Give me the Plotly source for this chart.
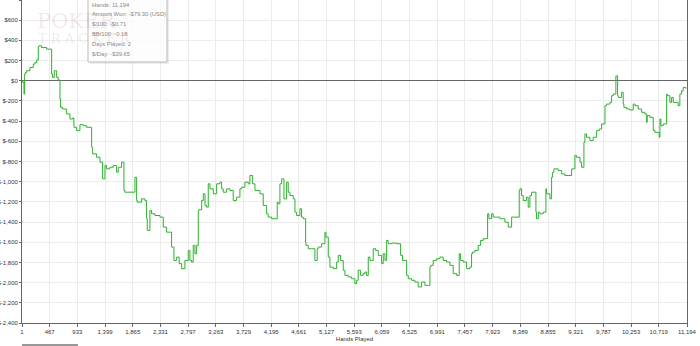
import plotly.graph_objects as go

hands = [1, 12, 34, 45, 56, 79, 135, 191, 219, 247, 275, 286, 331, 415, 500, 516, 544, 584, 611, 640,
         651, 685, 752, 808, 853, 875, 920, 976, 1032, 1089, 1173, 1190, 1257, 1313, 1358, 1397, 1425, 1481,
         1537, 1593, 1621, 1677, 1717, 1733, 1818, 1902, 1930, 1941, 2014, 2070, 2098, 2109, 2154, 2182,
         2238, 2323, 2378, 2435, 2519, 2558, 2604, 2647, 2688, 2743, 2799, 2827, 2856, 2883, 2912, 2940,
         2968, 2980, 3025, 3052, 3081, 3109, 3136, 3165, 3220, 3277, 3333, 3361, 3388, 3445, 3501, 3556,
         3613, 3669, 3698, 3753, 3809, 3837, 3883, 3922, 3950, 4006, 4061, 4118, 4145, 4203, 4297, 4314,
         4342, 4371, 4410, 4455, 4482, 4511, 4566, 4595, 4623, 4679, 4707, 4735, 4775, 4780, 4819, 4876,
         4931, 4970, 4987, 5044, 5100, 5117, 5156, 5184, 5240, 5297, 5324, 5364, 5408, 5436, 5492, 5549,
         5604, 5633, 5660, 5700, 5744, 5773, 5801, 5829, 5857, 5913, 5953, 5997, 6054, 6081, 6110, 6138,
         6165, 6222, 6306, 6374, 6407, 6475, 6502, 6559, 6614, 6670, 6727, 6783, 6838, 6867, 6884, 6922,
         6980, 7035, 7091, 7148, 7203, 7259, 7316, 7360, 7383, 7427, 7484, 7540, 7568, 7585, 7624, 7680,
         7720, 7764, 7838, 7860, 7905, 7932, 7989, 8045, 8129, 8185, 8242, 8269, 8370, 8382, 8410, 8437,
         8494, 8521, 8550, 8578, 8651, 8662, 8691, 8718, 8774, 8819, 8831, 8887, 8915, 8932, 8954, 9027,
         9084, 9139, 9195, 9252, 9307, 9336, 9392, 9420, 9459, 9476, 9504, 9560, 9616, 9673, 9717, 9757,
         9813, 9841, 9897, 9925, 9952, 9997, 10009, 10026, 10036, 10093, 10120, 10132, 10177, 10233, 10289,
         10317, 10373, 10430, 10485, 10514, 10524, 10570, 10626, 10654, 10727, 10738, 10755, 10794, 10851,
         10861, 10906, 10935, 10962, 10990, 11046, 11074, 11103, 11130, 11175, 11194]

amount_won = [0, -16, -132, 66, 82, 99, 132, 165, 181, 205, 336, 346, 329, 313, 66, 33, 99, 33, 7,
              -181, -264, -280, -329, -379, -369, -461, -494, -435, -445, -461, -659, -725, -758, -807, -972,
              -840, -873, -857, -840, -906, -857, -807, -1087, -1104, -1104, -956, -1186, -1203, -1170, -1186,
              -1367, -1483, -1285, -1318, -1335, -1351, -1450, -1500, -1648, -1780, -1747, -1812, -1862, -1780,
              -1681, -1780, -1796, -1631, -1714, -1631, -1285, -1278, -1186, -1120, -1236, -1252, -1021, -1071,
              -1120, -1021, -1005, -1071, -1104, -1071, -1087, -1186, -1153, -1071, -1055, -1005, -1021, -939,
              -1021, -1087, -1087, -1120, -1236, -1318, -1351, -1367, -1203, -1219, -1021, -972, -1170, -1005,
              -1104, -1137, -1170, -1302, -1335, -1268, -1351, -1367, -1598, -1631, -1664, -1664, -1780, -1664,
              -1648, -1615, -1500, -1549, -1747, -1846, -1862, -1796, -1730, -1780, -1878, -1928, -1944, -1961,
              -2010, -1977, -1878, -1928, -1911, -1895, -1930, -1747, -1780, -1664, -1681, -1730, -1812, -1714,
              -1780, -1582, -1615, -1608, -1615, -1730, -1780, -1928, -1961, -1977, -1994, -2043, -1994, -2027,
              -2027, -1846, -1829, -1780, -1763, -1747, -1780, -1796, -1829, -1911, -1928, -1714, -1780, -1796,
              -1862, -1846, -1714, -1697, -1681, -1631, -1582, -1565, -1318, -1367, -1318, -1351, -1351, -1367,
              -1401, -1450, -1351, -1351, -1087, -1071, -1137, -1186, -1153, -1252, -1137, -1104, -1302, -1367,
              -1302, -1318, -1302, -1071, -1120, -1170, -956, -906, -873, -890, -923, -939, -939, -873, -741,
              -758, -807, -857, -610, -527, -560, -593, -560, -494, -478, -428, -247, -231, -214, -148, -132,
              49, 49, -148, -165, -115, -231, -264, -280, -290, -231, -247, -280, -313, -329, -412, -346, -363,
              -494, -511, -560, -379, -445, -428, -132, -148, -214, -165, -214, -214, -247, -132, -99, -66, -79]

x_ticks = [1, 467, 933, 1399, 1865, 2331, 2797, 3263, 3729, 4195, 4661, 5127, 5593, 6059, 6525,
           6991, 7457, 7923, 8389, 8855, 9321, 9787, 10253, 10719, 11194]
y_ticks = list(range(-2400, 801, 200))

stats_lines = ["Hands: 11,194", "Amount Won: -$79.30 (USD)", "$/100: -$0.71",
               "BB/100: -0.18", "Days Played: 2", "$/Day: -$39.65"]


def money(v):
    s = f"{abs(v):,}"
    return f"$-{s}" if v < 0 else f"${s}"


FONT = "Liberation Sans, Arial, sans-serif"
L, R, T, B = 22, 13, 0, 23
W, H = 700, 346
PW, PH = W - L - R, H - T - B


def px(xp):
    return (xp - L) / PW


def py(yp):
    return (H - B - yp) / PH


fig = go.Figure()
fig.add_trace(go.Scatter(x=hands, y=amount_won, mode="lines",
                         line=dict(color="#2fb02f", width=1, shape="hv"), hoverinfo="skip"))

fig.update_layout(
    width=W, height=H, margin=dict(l=L, r=R, t=T, b=B, autoexpand=False),
    paper_bgcolor="white", plot_bgcolor="white", showlegend=False,
    font=dict(family=FONT, size=6, color="#333"),
    xaxis=dict(range=[1, 11194], tickvals=x_ticks, ticktext=[f"{v:,}" for v in x_ticks],
               showgrid=True, gridcolor="#ececec", gridwidth=1, zeroline=False, automargin=False,
               showline=True, linecolor="#666", linewidth=1, ticks="outside", ticklen=3,
               tickcolor="#666", tickfont=dict(size=6, color="#333"),
               title=dict(text="Hands Played", font=dict(size=6, color="#333"), standoff=2)),
    yaxis=dict(range=[-2400, 800], tickvals=y_ticks, ticktext=[money(v) for v in y_ticks],
               showgrid=True, gridcolor="#ececec", gridwidth=1, automargin=False,
               zeroline=True, zerolinecolor="#666", zerolinewidth=1,
               showline=True, linecolor="#666", linewidth=1, mirror=True,
               ticks="outside", ticklen=2, tickcolor="#666",
               tickfont=dict(size=6, color="#333")),
)

# watermark
fig.add_annotation(x=px(36), y=py(21), xref="paper", yref="paper", text="POKER",
                   showarrow=False, xanchor="left", yanchor="middle", borderpad=0,
                   font=dict(family="DejaVu Serif, serif", size=21, color="rgba(200,110,110,0.17)"))
fig.add_annotation(x=px(37), y=py(38), xref="paper", yref="paper", text="T R A C K E R",
                   showarrow=False, xanchor="left", yanchor="middle", borderpad=0,
                   font=dict(family="DejaVu Serif, serif", size=13, color="rgba(140,140,140,0.18)"))

# stats box
fig.add_shape(type="rect", xref="paper", yref="paper", x0=px(90), x1=px(169), y0=py(64), y1=py(-5),
              fillcolor="rgba(0,0,0,0.07)", line=dict(width=0), layer="above")
fig.add_shape(type="rect", xref="paper", yref="paper", x0=px(88), x1=px(167), y0=py(62), y1=py(-5),
              fillcolor="rgba(255,255,255,0.85)", line=dict(color="#bbbbbb", width=1), layer="above")
for i, line in enumerate(stats_lines):
    fig.add_annotation(x=px(91), y=py(4.5 + i * 9.8), xref="paper", yref="paper", text=line,
                       showarrow=False, xanchor="left", yanchor="middle", borderpad=0,
                       font=dict(family=FONT, size=5.8, color="#888"))

# small bar below the chart
fig.add_shape(type="line", xref="paper", yref="paper", x0=px(22), x1=px(78), y0=py(345), y1=py(345),
              line=dict(color="#333", width=1))

fig.write_html("out.html")
